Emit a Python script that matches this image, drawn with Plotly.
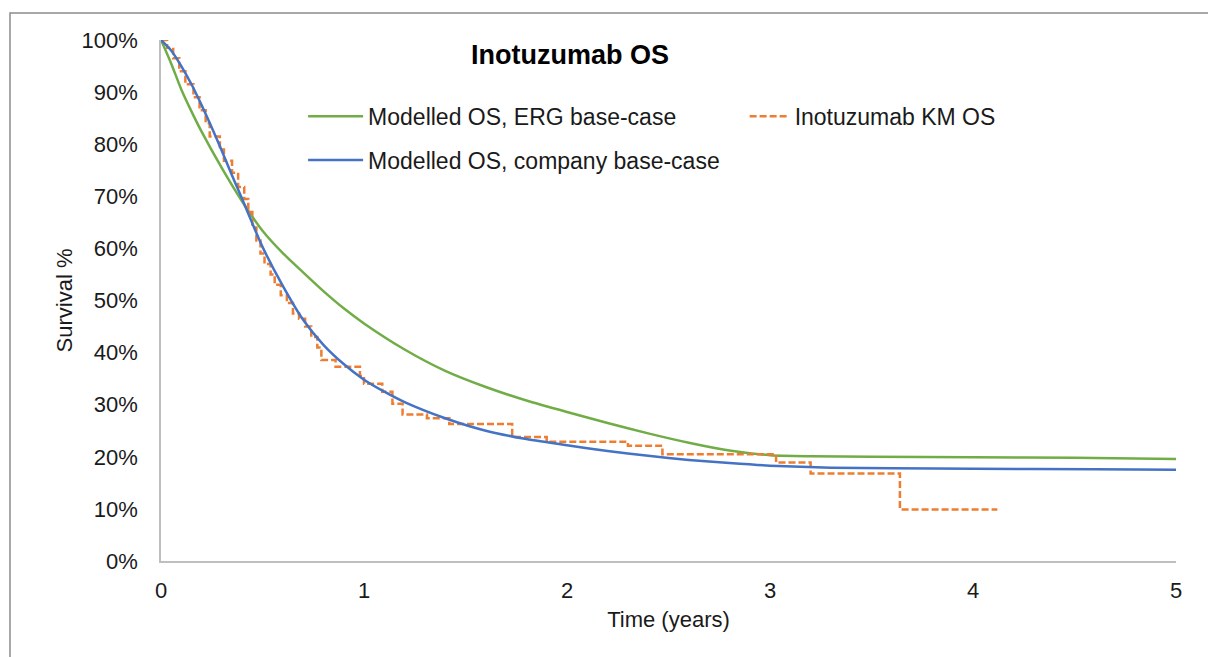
import plotly.graph_objects as go

# Modelled OS, ERG base-case
erg_t = [0, 0.05, 0.1, 0.15, 0.2, 0.3, 0.4, 0.5, 0.6, 0.7, 0.8, 0.9, 1.0, 1.2, 1.4, 1.6, 1.8,
         2.0, 2.2, 2.4, 2.6, 2.8, 3.0, 3.2, 3.5, 4.0, 4.5, 5.0]
erg_s = [100, 95.5, 90.5, 86.3, 82.4, 75.4, 69.0, 63.4, 59.1, 55.4, 51.8, 48.5, 45.6, 40.6, 36.5,
         33.4, 30.8, 28.6, 26.5, 24.5, 22.7, 21.2, 20.3, 20.1, 20.0, 19.9, 19.8, 19.6]

# Modelled OS, company base-case
comp_t = [0, 0.05, 0.1, 0.15, 0.2, 0.25, 0.3, 0.35, 0.4, 0.45, 0.5, 0.6, 0.7, 0.8, 0.9, 1.0, 1.1,
          1.2, 1.4, 1.6, 1.8, 2.0, 2.2, 2.4, 2.6, 2.8, 3.0, 3.3, 3.6, 4.0, 4.6, 5.0]
comp_s = [100, 98, 95, 91.5, 87.5, 83.2, 78.7, 74, 69.5, 64.8, 60.3, 52.8, 46.3, 41.5, 37.8, 34.8,
          32.5, 30.5, 27.4, 25.0, 23.4, 22.2, 21.1, 20.2, 19.4, 18.8, 18.3, 17.9, 17.8, 17.7, 17.6, 17.5]

# Inotuzumab KM OS (step function)
km_t = [0, 0.03, 0.06, 0.09, 0.12, 0.16, 0.19, 0.22, 0.24, 0.29, 0.31, 0.35, 0.38, 0.41, 0.43,
        0.45, 0.47, 0.49, 0.51, 0.54, 0.56, 0.59, 0.62, 0.65, 0.68, 0.71, 0.74, 0.77, 0.79, 0.86,
        0.98, 1.0, 1.09, 1.14, 1.19, 1.31, 1.42, 1.73, 1.90, 2.30, 2.47, 3.03, 3.20, 3.64, 4.12]
km_s = [100, 98.5, 96.5, 94, 91.5, 89, 86.5, 84, 81.5, 79, 76.8, 74.5, 71.8, 69.5, 67, 64, 61.5,
        59, 57, 55, 53, 51, 49.5, 47.5, 46.5, 45, 43, 41, 38.6, 37.3, 35.5, 34, 32.5, 30.2, 28.1,
        27.4, 26.3, 23.8, 22.9, 22.1, 20.5, 18.9, 16.8, 9.9, 9.9]

x_ticks = [0, 1, 2, 3, 4, 5]
y_ticks = list(range(0, 101, 10))
y_labels = [f"{v}%" for v in y_ticks]

FONT = "Liberation Sans, Arial, sans-serif"
TXT = "#1a1a1a"

fig = go.Figure()
fig.add_trace(go.Scatter(x=erg_t, y=erg_s, mode="lines", name="Modelled OS, ERG base-case",
                         line=dict(color="#70AD47", width=2.5, shape="spline", smoothing=0.6),
                         legend="legend", legendgroup="a", cliponaxis=False))
fig.add_trace(go.Scatter(x=km_t, y=km_s, mode="lines", name="Inotuzumab KM OS",
                         line=dict(color="#ED7D31", width=2.5, dash="7px,3px", shape="hv"),
                         legend="legend2", cliponaxis=False))
fig.add_trace(go.Scatter(x=comp_t, y=comp_s, mode="lines", name="Modelled OS, company base-case",
                         line=dict(color="#4472C4", width=2.5, shape="spline", smoothing=0.6),
                         legend="legend", legendgroup="b", cliponaxis=False))

axis_common = dict(showgrid=False, zeroline=False, showline=True, linecolor="#BFBFBF",
                   linewidth=1.5, ticks="", tickfont=dict(family=FONT, size=22, color=TXT))

fig.update_layout(
    width=1216, height=657,
    margin=dict(l=153, r=48, t=32, b=104),
    paper_bgcolor="white", plot_bgcolor="white",
    font=dict(family=FONT, size=22, color=TXT),
    xaxis=dict(range=[0, 5], tickvals=x_ticks, ticklabelstandoff=9,
               title=dict(text="Time (years)", font=dict(family=FONT, size=22, color=TXT), standoff=9),
               **axis_common),
    yaxis=dict(range=[0, 100], tickvals=y_ticks, ticktext=y_labels, ticklabelstandoff=17,
               title=dict(text="Survival %", font=dict(family=FONT, size=22, color=TXT), standoff=3),
               **axis_common),
    legend=dict(x=0.14, y=0.895, xanchor="left", yanchor="top", bgcolor="rgba(0,0,0,0)",
                font=dict(family=FONT, size=23, color=TXT), tracegroupgap=11,
                itemwidth=55, orientation="v"),
    legend2=dict(x=0.575, y=0.895, xanchor="left", yanchor="top", bgcolor="rgba(0,0,0,0)",
                 font=dict(family=FONT, size=23, color=TXT), itemwidth=40),
    showlegend=True,
)

fig.add_annotation(text="<b>Inotuzumab OS</b>", xref="paper", yref="paper", x=0.403, y=0.971,
                   xanchor="center", yanchor="middle", showarrow=False,
                   font=dict(family=FONT, size=27, color="black"))

# outer chart frame (partially visible)
fig.add_shape(type="rect", xref="paper", yref="paper", x0=(10 - 161) / 1015, x1=1.2,
              y0=-0.3, y1=1 + 27 / 521, line=dict(color="#8c8c8c", width=1.5), layer="below")

fig.write_html("out.html")
